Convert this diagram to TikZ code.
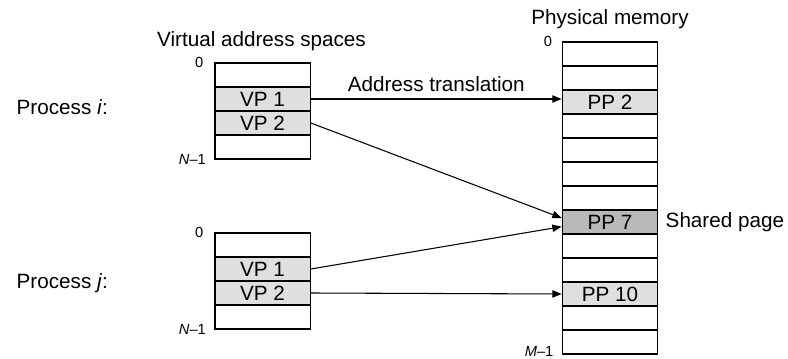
\documentclass[tikz,border=0pt]{standalone}
\usepackage{fontspec}
\setmainfont{Liberation Sans}
\usepackage{tikz}
\usetikzlibrary{arrows.meta, positioning}

\begin{document}
\begin{tikzpicture}[
    x=0.75pt, y=-0.75pt,
    page/.style={draw, line width=1pt, minimum width=71.5pt, minimum height=18pt, inner sep=0pt, font=\fontsize{15.5}{18}\selectfont},
    used/.style={page, fill=gray!25},
    shared/.style={page, fill=gray!55},
    lbl/.style={font=\fontsize{15.5}{18}\selectfont},
    idx/.style={font=\fontsize{11}{13}\selectfont, inner sep=1pt},
    arr/.style={-{Triangle[length=7pt, width=5.5pt]}, thick},
  ]
  \useasboundingbox (0,0) rectangle (788,359);

  % virtual pages of process i and j
  \foreach \k/\s/\t in {0/page/, 1/used/VP 1, 2/used/VP 2, 3/page/}
    \node[\s] (vi\k) at (262.5, 75+24*\k) {\t};
  \foreach \k/\s/\t in {0/page/, 1/used/VP 1, 2/used/VP 2, 3/page/}
    \node[\s] (vj\k) at (262.5, 245+24*\k) {\t};

  % physical pages
  \foreach \k/\s/\t in {0/page/, 1/page/, 2/used/PP 2, 3/page/, 4/page/, 5/page/, 6/page/,
      7/shared/PP 7, 8/page/, 9/page/, 10/used/PP 10, 11/page/, 12/page/}
    \node[\s] (pp\k) at (610, 54+24*\k) {\t};

  \node[lbl] (vtitle) at (261.5, 41) {Virtual address spaces};
  \node[lbl] (ptitle) at (610, 19) {Physical memory};
  \node[lbl, anchor=west] (proci) at (12, 107) {Process \textit{i}:};
  \node[lbl, anchor=west] (procj) at (12, 283) {Process \textit{j}:};
  \node[lbl, right=2pt of pp7] (shared) {Shared page};

  \node[idx, left=7pt of vi0.north west] {0};
  \node[idx, left=5pt of vi3.south west] {\textit{N}--1};
  \node[idx, left=7pt of vj0.north west] {0};
  \node[idx, left=5pt of vj3.south west] {\textit{N}--1};
  \node[idx, left=6pt of pp0.north west] {0};
  \node[idx, left=5pt of pp12.south west, yshift=2.5pt] {\textit{M}--1};

  \draw[arr] (vi1.east) -- (vi1.east -| pp2.west)
    node[lbl, midway, above=2pt] (trans) {Address translation};
  \draw[arr] (vi2.east) -- ([yshift=3pt]pp7.west);
  \draw[arr] (vj1.east) -- ([yshift=-3.5pt]pp7.west);
  \draw[arr] (vj2.east) -- (pp10.west);
\end{tikzpicture}
\end{document}
